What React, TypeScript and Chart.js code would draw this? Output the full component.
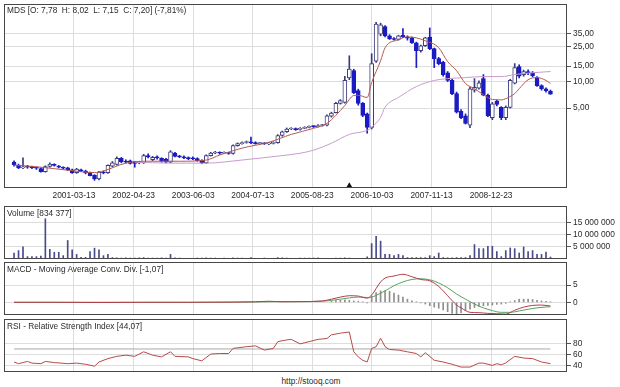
import React, { useEffect, useRef } from 'react';
import { Chart, registerables } from 'chart.js';

Chart.register(...registerables);

// ---------- DATA ----------
// Monthly candles, Feb 2000 .. Feb 2010 (x = months counted from Jan 2000)
const firstMonth = '2000-02';
const candleCount = 121;

const openPrices = [
  1.22, 1.13, 1.05, 1.08, 1.07, 1.06, 1.03, 0.95, 1.09, 1.15,
  1.10, 1.07, 1.05, 1.00, 0.93, 1.00, 0.97, 0.92, 0.87, 0.79,
  0.94, 0.93, 1.10, 1.15, 1.35, 1.25, 1.26, 1.23, 1.20, 1.20,
  1.45, 1.30, 1.40, 1.35, 1.32, 1.22, 1.55, 1.42, 1.40, 1.37,
  1.35, 1.34, 1.28, 1.20, 1.45, 1.55, 1.57, 1.54, 1.55, 1.53,
  1.88, 1.98, 2.04, 2.06, 2.03, 1.98, 2.00, 1.97, 1.99, 2.03,
  2.45, 2.70, 2.90, 2.92, 2.86, 2.95, 3.02, 3.10, 3.08, 3.18,
  3.20, 4.05, 4.45, 5.65, 5.80, 11.0, 13.3, 7.90, 5.65, 4.30,
  3.03, 17.0, 34.5, 42.0, 33.0, 30.5, 30.0, 33.5, 32.0, 31.3,
  27.5, 22.4, 25.5, 32.0, 23.6, 18.2, 16.5, 12.6, 10.3, 7.3,
  4.6, 4.1, 3.2, 8.0, 8.4, 10.8, 7.0, 3.9, 6.0, 5.1,
  3.9, 5.1, 9.6, 14.8, 12.0, 13.0, 12.6, 11.1, 9.0, 8.3, 7.78,
];
const highPrices = [
  1.26, 1.16, 1.37, 1.12, 1.10, 1.08, 1.05, 1.11, 1.20, 1.17,
  1.12, 1.08, 1.07, 1.02, 1.04, 1.02, 0.99, 0.94, 0.88, 0.96,
  0.97, 1.14, 1.24, 1.40, 1.38, 1.30, 1.29, 1.25, 1.25, 1.50,
  1.52, 1.42, 1.44, 1.37, 1.35, 1.65, 1.58, 1.46, 1.44, 1.40,
  1.40, 1.37, 1.30, 1.48, 1.58, 1.62, 1.60, 1.60, 1.58, 1.92,
  2.02, 2.08, 2.12, 2.35, 2.08, 2.05, 2.03, 2.03, 2.08, 2.50,
  2.75, 2.98, 3.00, 2.98, 3.00, 3.08, 3.15, 3.15, 3.25, 3.28,
  4.20, 4.50, 5.80, 6.25, 11.5, 19.6, 13.8, 8.20, 5.80, 4.40,
  20.7, 47.0, 46.0, 43.0, 34.0, 31.5, 33.5, 40.0, 33.0, 32.0,
  28.0, 26.0, 31.8, 40.6, 24.0, 18.8, 17.0, 13.0, 10.6, 7.6,
  4.8, 4.3, 8.6, 10.8, 10.2, 12.0, 7.2, 5.8, 6.2, 5.2,
  5.3, 10.6, 16.0, 15.5, 13.5, 13.6, 13.0, 11.4, 9.2, 8.5, 8.02,
];
const lowPrices = [
  1.10, 1.03, 1.03, 1.04, 1.03, 1.01, 0.94, 0.94, 1.07, 1.10,
  1.05, 1.02, 0.98, 0.91, 0.91, 0.95, 0.90, 0.85, 0.76, 0.77,
  0.90, 0.91, 1.08, 1.13, 1.20, 1.19, 1.16, 1.07, 1.17, 1.18,
  1.36, 1.27, 1.32, 1.22, 1.20, 1.20, 1.40, 1.37, 1.34, 1.30,
  1.30, 1.25, 1.17, 1.18, 1.43, 1.52, 1.50, 1.52, 1.50, 1.50,
  1.85, 1.95, 2.00, 1.98, 1.95, 1.95, 1.94, 1.93, 1.96, 2.00,
  2.40, 2.65, 2.85, 2.80, 2.82, 2.92, 2.98, 3.02, 3.04, 3.12,
  3.15, 3.95, 4.40, 5.55, 5.70, 10.5, 7.30, 5.40, 4.00, 2.60,
  2.90, 16.5, 33.0, 32.0, 30.0, 29.5, 29.5, 31.5, 29.5, 27.0,
  14.4, 21.5, 25.0, 23.0, 14.4, 15.5, 11.5, 10.0, 7.1, 4.4,
  3.8, 3.3, 3.0, 7.6, 8.2, 6.9, 4.0, 3.7, 5.3, 3.7,
  3.7, 5.0, 9.4, 11.0, 11.5, 12.0, 11.3, 8.8, 8.0, 7.6, 7.15,
];
const closePrices = [
  1.14, 1.05, 1.08, 1.07, 1.06, 1.04, 0.95, 1.09, 1.16, 1.12,
  1.07, 1.04, 1.00, 0.93, 1.02, 0.97, 0.92, 0.86, 0.79, 0.94,
  0.92, 1.12, 1.20, 1.35, 1.24, 1.22, 1.18, 1.18, 1.22, 1.45,
  1.40, 1.38, 1.36, 1.25, 1.22, 1.60, 1.42, 1.40, 1.36, 1.34,
  1.33, 1.27, 1.20, 1.45, 1.55, 1.58, 1.54, 1.55, 1.53, 1.88,
  1.98, 2.04, 2.06, 2.02, 1.98, 2.00, 1.97, 1.99, 2.03, 2.45,
  2.70, 2.90, 2.92, 2.85, 2.95, 3.02, 3.10, 3.08, 3.18, 3.20,
  4.10, 4.40, 5.65, 6.10, 10.3, 13.9, 7.50, 5.65, 4.14, 3.03,
  16.0, 45.0, 44.0, 33.0, 30.5, 30.0, 33.0, 32.0, 31.0, 27.5,
  22.4, 25.5, 31.3, 23.6, 18.2, 16.0, 12.0, 10.3, 7.3, 4.5,
  3.9, 3.35, 8.3, 8.6, 9.7, 7.0, 4.1, 5.6, 5.5, 3.9,
  5.1, 10.3, 14.4, 11.5, 13.0, 12.5, 11.7, 9.0, 8.3, 7.9, 7.20,
];
// volume in millions of shares
const volumeMillions = [
  2.5, 3.5, 5.0, 1.0, 1.0, 1.0, 1.2, 16.7, 4.0, 2.8,
  2.8, 1.4, 7.7, 3.8, 1.9, 0.7, 0.7, 3.1, 4.5, 3.8,
  1.4, 1.9, 0.6, 0.5, 0.4, 0.5, 0.4, 0.4, 0.5, 0.6,
  0.4, 0.4, 0.4, 0.5, 0.4, 1.9, 0.5, 0.4, 0.3, 0.3,
  0.1, 0.4, 0.4, 0.5, 0.4, 0.4, 0.3, 0.4, 0.3, 0.5,
  0.4, 0.4, 0.3, 0.6, 0.3, 0.3, 0.4, 0.3, 0.3, 0.6,
  0.5, 0.4, 0.3, 0.3, 0.4, 0.4, 0.4, 0.4, 0.5, 0.3,
  0.1, 0.1, 0.4, 0.4, 0.5, 0.4, 0.1, 0.1, 0.3, 0.9,
  6.4, 9.4, 7.4, 1.9, 1.9, 1.4, 1.9, 1.4, 0.6, 0.6,
  0.6, 0.6, 0.6, 1.4, 1.0, 2.5, 0.6, 0.5, 0.5, 0.6,
  0.6, 0.6, 1.4, 6.0, 4.3, 4.3, 5.3, 5.3, 3.1, 1.0,
  3.5, 4.6, 4.3, 2.5, 5.0, 3.1, 3.5, 1.9, 1.9, 2.9, 0.83,
];

// moving averages (month index, value)
const maShortAt = [1, 7, 13, 19, 21, 26, 31, 38, 44, 47, 52, 58, 63, 68, 71, 73, 75, 77, 78, 80, 81, 83, 84, 87, 89, 91, 93, 96, 98, 100, 102, 104, 106, 108, 110, 111, 112, 113, 114, 116, 118, 120, 121];
const maShortValues = [1.13, 1.07, 0.99, 0.93, 0.97, 1.19, 1.25, 1.25, 1.29, 1.47, 1.76, 2.05, 2.52, 2.95, 3.36, 4.14, 5.36, 6.95, 7.0, 6.6, 9.74, 17.2, 24.2, 29.8, 32.2, 31.3, 29.0, 24.2, 16.8, 13.3, 9.5, 8.3, 7.1, 6.27, 6.2, 6.4, 6.77, 7.3, 8.3, 10.5, 11.1, 10.3, 9.5];
const maLongAt = [28, 36, 44, 52, 60, 65, 68, 72, 76, 80, 81, 83, 84, 87, 91, 95, 98, 102, 106, 110, 113, 117, 121];
const maLongValues = [1.22, 1.19, 1.19, 1.29, 1.43, 1.54, 1.67, 2.0, 2.52, 2.8, 3.03, 3.93, 5.13, 6.6, 8.78, 10.3, 10.8, 11.1, 11.4, 11.4, 12.0, 12.6, 13.0];
const markerAt = [76];
const markerValues = [0.66];

// MACD
const macdAt = [1, 10, 20, 30, 40, 50, 55, 58, 61, 65, 70, 72, 74, 76, 78, 80, 81, 83, 84, 86, 88, 90, 92, 94, 96, 98, 100, 101, 103, 105, 107, 109, 111, 113, 115, 117, 119, 121];
const macdValues = [0, 0, -0.05, 0, 0, 0.05, 0.15, 0.3, 0.15, 0.2, 0.4, 0.9, 1.5, 1.9, 1.8, 1.2, 2.1, 5.9, 7.0, 7.6, 8.1, 7.4, 6.6, 6.2, 4.6, 1.9, -0.8, -1.6, -2.9, -3.0, -3.2, -3.3, -3.4, -2.3, -1.4, -0.9, -0.8, -1.07];
const signalAt = [1, 20, 40, 55, 60, 65, 70, 74, 78, 80, 81, 82, 84, 86, 88, 90, 92, 94, 96, 98, 100, 102, 104, 106, 108, 110, 112, 114, 116, 118, 120, 121];
const signalValues = [0, 0, 0, 0.1, 0.2, 0.2, 0.3, 0.9, 1.5, 1.4, 1.5, 2.0, 3.3, 4.8, 5.9, 6.6, 6.8, 6.5, 5.6, 4.2, 2.4, 0.9, -0.5, -1.6, -2.4, -2.9, -2.9, -2.5, -2.0, -1.6, -1.35, -1.3];
const histAt = [72, 73, 74, 75, 76, 77, 78, 79, 80, 81, 82, 83, 84, 85, 86, 87, 88, 89, 90, 91, 92, 93, 94, 95, 96, 97, 98, 99, 100, 101, 102, 103, 104, 105, 106, 107, 108, 109, 110, 111, 112, 113, 114, 115, 116, 117, 118, 119, 120, 121];
const histValues = [0.3, 0.5, 0.6, 0.7, 0.6, 0.4, 0.3, 0.1, -0.2, 1.8, 2.8, 3.3, 3.4, 3.2, 2.7, 2.1, 1.5, 0.9, 0.4, 0.1, -0.2, -0.5, -1.0, -1.4, -1.7, -2.2, -2.7, -3.2, -3.5, -3.0, -2.4, -2.0, -1.5, -1.2, -1.0, -0.9, -0.8, -0.6, -0.5, -0.3, 0.1, 0.5, 0.9, 0.9, 0.9, 0.8, 0.6, 0.4, 0.3, 0.1];

// RSI
const rsiAt = [1, 2, 4, 5, 7, 8, 10, 13, 15, 17, 19, 20, 22, 24, 26, 28, 30, 32, 34, 36, 37, 40, 41, 43, 45, 47, 49, 50, 53, 55, 57, 59, 60, 62, 63, 65, 66, 69, 71, 72, 74, 76, 77, 78, 79, 80, 81, 82, 83, 84, 85, 87, 89, 91, 92, 93, 95, 97, 99, 101, 103, 105, 106, 108, 109, 110, 111, 113, 115, 117, 119, 121];
const rsiValues = [47, 44, 48, 45, 44, 48, 46, 44, 45, 43, 39.5, 47, 53, 57, 59, 57, 65, 59, 56, 65, 57, 56, 53, 49, 61, 62, 62, 71, 74, 75.5, 68, 71, 83, 86, 87, 79, 81, 87, 88.5, 95, 98, 100, 65, 56, 50, 47, 71, 74, 89, 74, 69, 68, 65, 62, 56, 63.5, 50, 47, 43, 38, 38, 45, 45, 41, 44, 42, 45.4, 57, 54, 53, 47, 44.07];
const rsiLevels = [70, 30];

// axis ticks
const xTickDates = ['2001-03-13', '2002-04-23', '2003-06-03', '2004-07-13', '2005-08-23', '2006-10-03', '2007-11-13', '2008-12-23'];
const priceTicks = [5, 10, 15, 25, 35];
const priceTickLabels = ['5,00', '10,00', '15,00', '25,00', '35,00'];
const volumeTicks = [5, 10, 15];
const volumeTickLabels = ['5 000 000', '10 000 000', '15 000 000'];
const macdTicks = [0, 5];
const macdTickLabels = ['0', '5'];
const rsiTicks = [40, 60, 80];
const rsiTickLabels = ['40', '60', '80'];

const titleMain = 'MDS [O: 7,78  H: 8,02  L: 7,15  C: 7,20] (-7,81%)';
const titleVolume = 'Volume [834 377]';
const titleMacd = 'MACD - Moving Average Conv. Div. [-1,07]';
const titleRsi = 'RSI - Relative Strength Index [44,07]';
const footer = 'http://stooq.com';

// ---------- helpers ----------
const monthPos = (label: string) => {
  const [y, m] = label.split('-').map(Number);
  return (y - 2000) * 12 + (m - 1);
};
const datePos = (label: string) => {
  const [y, m, d] = label.split('-').map(Number);
  const dim = new Date(y, m, 0).getDate();
  return (y - 2000) * 12 + (m - 1) + (d - 1) / dim;
};
const candleX = Array.from({ length: candleCount }, (_, i) => monthPos(firstMonth) + i);
const pts = (at: number[], vals: number[]) => at.map((x, i) => ({ x, y: vals[i] }));

const X_MIN = -1.25;
const X_MAX = 124.7;
const FONT = '"Liberation Sans", Arial, Helvetica, sans-serif';
const GRID = '#dddddd';
const TEXT = '#2a2a2a';
const TICK_FONT = { family: FONT, size: 8.4 };

const panelBorder = {
  id: 'panelBorder',
  afterDraw(chart: any) {
    const { ctx, chartArea } = chart;
    const l = Math.round(chartArea.left);
    const t = Math.round(chartArea.top);
    const r = Math.round(chartArea.right);
    const b = Math.round(chartArea.bottom);
    ctx.save();
    ctx.strokeStyle = '#474747';
    ctx.lineWidth = 1;
    ctx.strokeRect(l + 0.5, t + 0.5, r - l - 1, b - t - 1);
    ctx.restore();
  },
};

function xAxis(showLabels: boolean) {
  return {
    type: 'linear',
    min: X_MIN,
    max: X_MAX,
    bounds: 'data',
    offset: false,
    grid: { color: GRID, offset: false, drawTicks: false },
    border: { display: false },
    ticks: {
      display: showLabels,
      autoSkip: false,
      maxRotation: 0,
      padding: 3,
      color: TEXT,
      font: TICK_FONT,
      callback: (_v: any, i: number) => xTickDates[i],
    },
    afterBuildTicks: (s: any) => {
      s.ticks = xTickDates.map((d) => ({ value: datePos(d) }));
    },
    afterFit: (s: any) => {
      s.height = showLabels ? 16 : 0;
      s.paddingLeft = 0;
      s.paddingRight = 0;
    },
  };
}

function yAxis(type: string, min: number, max: number, ticks: number[], labels: string[]) {
  return {
    type,
    position: 'right',
    min,
    max,
    bounds: 'data',
    grid: { color: GRID, tickColor: '#555', tickLength: 4, drawTicks: true },
    border: { display: false },
    ticks: {
      autoSkip: false,
      padding: 2,
      color: TEXT,
      font: TICK_FONT,
      callback: (_v: any, i: number) => labels[i],
    },
    afterBuildTicks: (s: any) => {
      s.ticks = ticks.map((v) => ({ value: v }));
    },
    afterFit: (s: any) => {
      s.width = 53;
      s.paddingTop = 0;
      s.paddingBottom = 0;
    },
  };
}

function baseOptions(showX: boolean, y: any, padTop: number) {
  return {
    animation: false,
    responsive: false,
    maintainAspectRatio: false,
    devicePixelRatio: 1,
    events: [],
    layout: { padding: { left: 4, right: 0, top: padTop, bottom: 0 } },
    plugins: { legend: { display: false }, tooltip: { enabled: false } },
    scales: { x: xAxis(showX), y },
  };
}

const UP_FILL = '#ffffff';
const UP_LINE = '#3b3b7e';
const DOWN = '#1b1bc4';

export default function App() {
  const mainRef = useRef<HTMLCanvasElement>(null);
  const volRef = useRef<HTMLCanvasElement>(null);
  const macdRef = useRef<HTMLCanvasElement>(null);
  const rsiRef = useRef<HTMLCanvasElement>(null);

  useEffect(() => {
    const isUp = closePrices.map((c, i) => c >= openPrices[i]);
    const charts: Chart[] = [];

    charts.push(
      new Chart(mainRef.current as HTMLCanvasElement, {
        type: 'bar',
        data: {
          datasets: [
            {
              type: 'line',
              data: pts(maShortAt, maShortValues),
              borderColor: '#b65a4c',
              borderWidth: 1,
              pointRadius: 0,
              cubicInterpolationMode: 'monotone',
              order: 0,
            },
            {
              type: 'line',
              data: pts(maLongAt, maLongValues),
              borderColor: '#c79ccd',
              borderWidth: 1,
              pointRadius: 0,
              cubicInterpolationMode: 'monotone',
              order: 0,
            },
            {
              type: 'line',
              data: pts(markerAt, markerValues),
              showLine: false,
              pointStyle: 'triangle',
              pointRadius: 3.5,
              backgroundColor: '#111',
              borderColor: '#111',
              borderWidth: 0,
              order: 0,
            },
            {
              type: 'bar',
              data: candleX.map((x, i) => ({ x, y: [openPrices[i], closePrices[i]] })),
              barThickness: 4,
              grouped: false,
              minBarLength: 1,
              borderSkipped: false,
              borderWidth: 1,
              backgroundColor: isUp.map((u) => (u ? UP_FILL : DOWN)),
              borderColor: isUp.map((u) => (u ? UP_LINE : DOWN)),
              order: 1,
            },
            {
              type: 'bar',
              data: candleX.map((x, i) => ({ x, y: [lowPrices[i], highPrices[i]] })),
              barThickness: 1,
              grouped: false,
              borderWidth: 0,
              backgroundColor: isUp.map((u) => (u ? UP_LINE : DOWN)),
              order: 2,
            },
          ],
        } as any,
        options: baseOptions(true, yAxis('logarithmic', 0.6217, 75.76, priceTicks, priceTickLabels), 3) as any,
        plugins: [panelBorder],
      })
    );

    charts.push(
      new Chart(volRef.current as HTMLCanvasElement, {
        type: 'bar',
        data: {
          datasets: [
            {
              data: candleX.map((x, i) => ({ x, y: volumeMillions[i] })),
              barThickness: 1,
              borderWidth: 0,
              backgroundColor: '#4a4a8c',
            },
          ],
        } as any,
        options: baseOptions(false, yAxis('linear', 0, 22, volumeTicks, volumeTickLabels), 0) as any,
        plugins: [panelBorder],
      })
    );

    charts.push(
      new Chart(macdRef.current as HTMLCanvasElement, {
        type: 'bar',
        data: {
          datasets: [
            {
              type: 'line',
              data: pts(macdAt, macdValues),
              borderColor: '#b23c4a',
              borderWidth: 1,
              pointRadius: 0,
              cubicInterpolationMode: 'monotone',
              order: 0,
            },
            {
              type: 'line',
              data: pts(signalAt, signalValues),
              borderColor: '#5aa25a',
              borderWidth: 1,
              pointRadius: 0,
              cubicInterpolationMode: 'monotone',
              order: 1,
            },
            {
              type: 'bar',
              data: pts(histAt, histValues),
              barThickness: 1,
              borderWidth: 0,
              backgroundColor: '#8e8e8e',
              order: 2,
            },
          ],
        } as any,
        options: baseOptions(false, yAxis('linear', -3.67, 11.65, macdTicks, macdTickLabels), 0) as any,
        plugins: [panelBorder],
      })
    );

    charts.push(
      new Chart(rsiRef.current as HTMLCanvasElement, {
        type: 'line',
        data: {
          datasets: [
            {
              data: pts(rsiAt, rsiValues),
              borderColor: '#b84a4a',
              borderWidth: 1,
              pointRadius: 0,
              tension: 0,
              order: 0,
            },
            ...rsiLevels.map((lv) => ({
              data: [
                { x: candleX[0], y: lv },
                { x: candleX[candleX.length - 1], y: lv },
              ],
              borderColor: '#a8a8a8',
              borderWidth: 1,
              pointRadius: 0,
              order: 1,
            })),
          ],
        } as any,
        options: baseOptions(false, yAxis('linear', 29.3, 123, rsiTicks, rsiTickLabels), 0) as any,
        plugins: [panelBorder],
      })
    );

    return () => charts.forEach((c) => c.destroy());
  }, []);

  const label = (text: string, top: number, left = 7): React.CSSProperties => ({
    position: 'absolute',
    top,
    left,
    fontFamily: FONT,
    fontSize: '8.3px',
    lineHeight: '10px',
    color: TEXT,
    whiteSpace: 'pre',
  });

  const canvasStyle = (top: number, height: number): React.CSSProperties => ({
    position: 'absolute',
    left: 0,
    top,
    width: 620,
    height,
  });

  return (
    <div style={{ position: 'absolute', left: 0, top: 0, width: 620, height: 387, background: '#fff', overflow: 'hidden' }}>
      <canvas ref={mainRef} width={620} height={204} style={canvasStyle(0, 204)} />
      <canvas ref={volRef} width={620} height={53} style={canvasStyle(206, 53)} />
      <canvas ref={macdRef} width={620} height={53} style={canvasStyle(262, 53)} />
      <canvas ref={rsiRef} width={620} height={53} style={canvasStyle(319, 53)} />
      <div style={label(titleMain, 5)}>{titleMain}</div>
      <div style={label(titleVolume, 208)}>{titleVolume}</div>
      <div style={label(titleMacd, 264)}>{titleMacd}</div>
      <div style={label(titleRsi, 321)}>{titleRsi}</div>
      <div style={{ ...label(footer, 376, 0), width: 622, textAlign: 'center' }}>{footer}</div>
    </div>
  );
}
